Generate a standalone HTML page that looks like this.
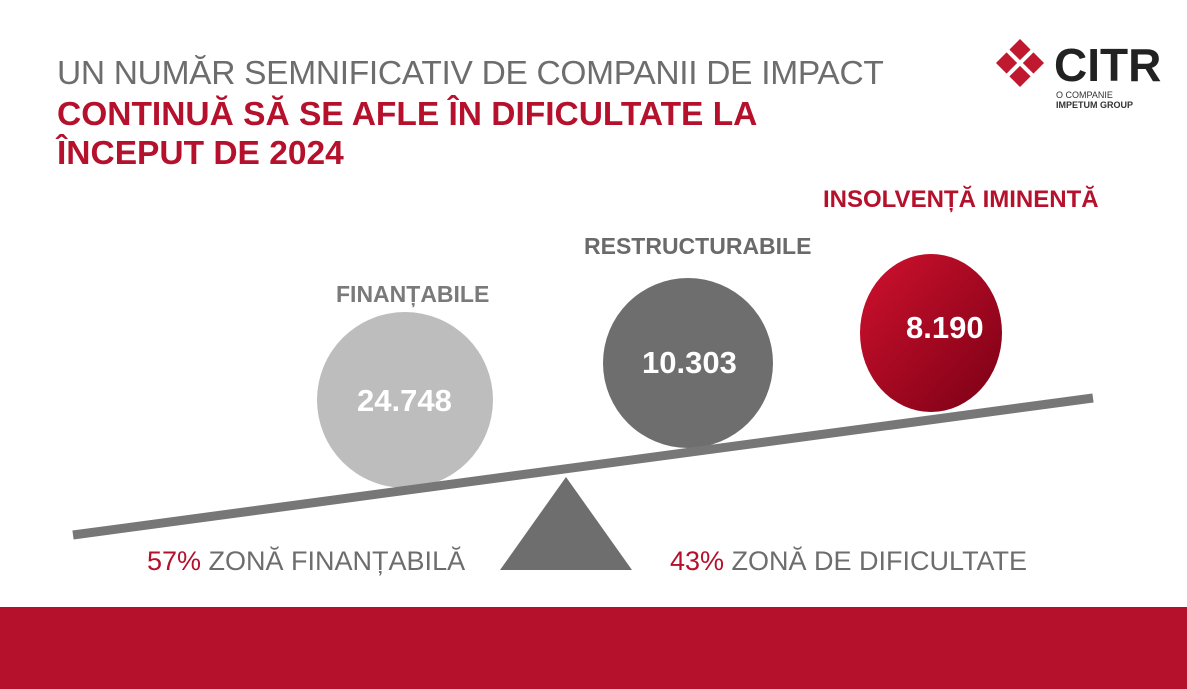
<!DOCTYPE html>
<html><head><meta charset="utf-8"><style>
body{margin:0;width:1187px;height:689px;overflow:hidden;background:#fff;font-family:"Liberation Sans",sans-serif;position:relative}
.t{position:absolute;white-space:nowrap}
</style></head><body>
<div class="t" style="left:57px;top:55px;font-size:33.5px;color:#6d6d6d;letter-spacing:-0.3px">UN NUMĂR SEMNIFICATIV DE COMPANII DE IMPACT</div>
<div class="t" style="left:57px;top:95px;font-size:33.5px;color:#b5102c;font-weight:bold;line-height:39px">CONTINUĂ SĂ SE AFLE ÎN DIFICULTATE LA<br>ÎNCEPUT DE 2024</div>
<svg style="position:absolute;left:0;top:0" width="1187" height="689">
<defs><linearGradient id="r" x1="0" y1="0" x2="1" y2="1"><stop offset="0" stop-color="#d0112e"/><stop offset="1" stop-color="#7a0015"/></linearGradient></defs>
<g transform="translate(1020,63) rotate(45)">
<rect x="-17" y="-17" width="15" height="15" fill="#c0182f"/><rect x="2" y="-17" width="15" height="15" fill="#c0182f"/>
<rect x="-17" y="2" width="15" height="15" fill="#c0182f"/><rect x="2" y="2" width="15" height="15" fill="#c0182f"/>
</g>
<ellipse cx="405" cy="400" rx="88" ry="88" fill="#bdbdbd"/>
<ellipse cx="688" cy="363" rx="85" ry="85" fill="#6e6e6e"/>
<ellipse cx="931" cy="333" rx="71" ry="79" fill="url(#r)"/>
<line x1="73" y1="535" x2="1093" y2="398" stroke="#777" stroke-width="9"/>
<polygon points="566,477 500,570 632,570" fill="#6e6e6e"/>
<rect x="0" y="607" width="1187" height="82" fill="#b5102c"/>
</svg>
<div class="t" style="left:1054px;top:38px;font-size:46px;font-weight:bold;color:#222">CITR</div>
<div class="t" style="left:1056px;top:90px;font-size:9px;color:#333;line-height:10px">O COMPANIE<br><b>IMPETUM GROUP</b></div>
<div class="t" style="left:336px;top:281px;font-size:23px;font-weight:bold;color:#7a7a7a">FINANȚABILE</div>
<div class="t" style="left:584px;top:233px;font-size:23px;font-weight:bold;color:#6a6a6a">RESTRUCTURABILE</div>
<div class="t" style="left:823px;top:186px;font-size:24px;font-weight:bold;color:#b5102c">INSOLVENȚĂ IMINENTĂ</div>
<div class="t" style="left:357px;top:383px;font-size:31px;font-weight:bold;color:#fff">24.748</div>
<div class="t" style="left:642px;top:345px;font-size:31px;font-weight:bold;color:#fff">10.303</div>
<div class="t" style="left:906px;top:310px;font-size:31px;font-weight:bold;color:#fff">8.190</div>
<div class="t" style="left:147px;top:546px;font-size:27px;color:#6d6d6d"><span style="color:#b5102c">57%</span> ZONĂ FINANȚABILĂ</div>
<div class="t" style="left:670px;top:546px;font-size:27px;color:#6d6d6d"><span style="color:#b5102c">43%</span> ZONĂ DE DIFICULTATE</div>
</body></html>
